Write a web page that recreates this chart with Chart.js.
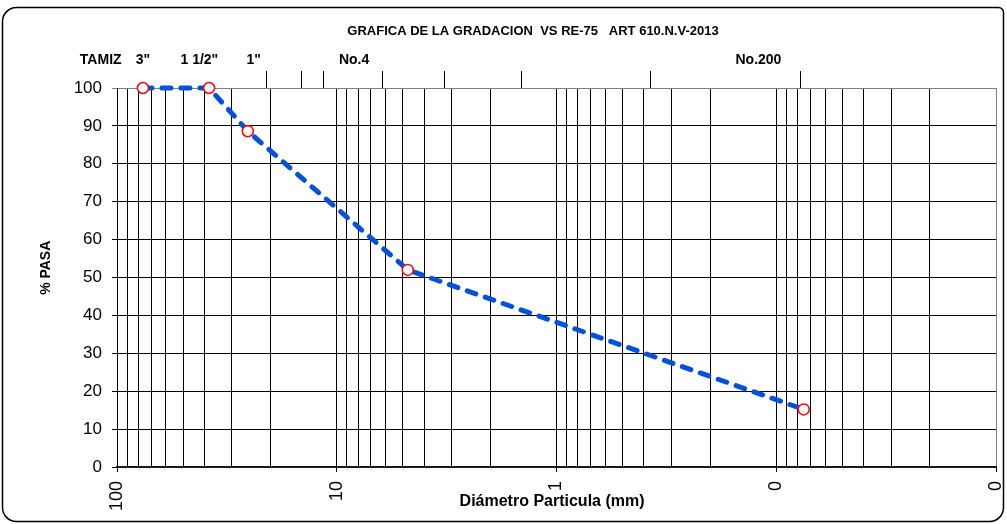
<!DOCTYPE html>
<html>
<head>
<meta charset="utf-8">
<script src="https://cdn.jsdelivr.net/npm/chart.js@4.4.1/dist/chart.umd.min.js"></script>
<style>
html,body{margin:0;padding:0;background:#fff;}
canvas{display:block;}
</style>
</head>
<body>
<canvas id="c" width="1007" height="524"></canvas>
<script>
// ---- data ----
const chartTitle = 'GRAFICA DE LA GRADACION  VS RE-75   ART 610.N.V-2013';
const xTitle = 'Diámetro Particula (mm)';
const yTitle = '% PASA';
const sieveSizes = [76.2, 38.1, 25.4, 4.75, 0.075];        // mm
const percentPassing = [100, 100, 88.6, 52, 15.2];        // % pasa
const sieveLabels = ['TAMIZ', '3"', '1 1/2"', '1"', 'No.4', 'No.200'];
const sieveLabelAt = [118.6, 76.2, 42.2, 23.9, 8.34, 0.1205];
const sieveTickAt = [0.0774, 0.374, 1.44, 3.25, 6.18, 11.43, 14.54, 20.8];
const xDecades = [0.01, 0.1, 1, 10, 100];
const xDecadeLabels = ['0', '0', '1', '10', '100'];
const yTickValues = [0, 10, 20, 30, 40, 50, 60, 70, 80, 90, 100];

const FONT = '"Liberation Sans", Arial, sans-serif';

// log grid: 1..9 x each decade
function logGridValues() {
  const out = [];
  for (let d = 0; d < xDecades.length - 1; d++) {
    for (let k = 1; k <= 9; k++) out.push(+(k * xDecades[d]).toPrecision(6));
  }
  out.push(xDecades[xDecades.length - 1]);
  return out;
}
function decadeIndex(v) {
  for (let i = 0; i < xDecades.length; i++) if (Math.abs(v - xDecades[i]) < xDecades[i] * 1e-6) return i;
  return -1;
}

const framePlugin = {
  id: 'frame',
  beforeDraw(chart) {
    const c = chart.ctx;
    c.save();
    c.fillStyle = '#fff';
    c.fillRect(0, 0, chart.width, chart.height);
    c.beginPath();
    c.roundRect(2.5, 7.5, 1001, 514, [14, 5, 14, 14]);
    c.lineWidth = 1.5;
    c.strokeStyle = '#000';
    c.stroke();
    c.restore();
  },
  afterDraw(chart) {
    const c = chart.ctx;
    c.save();
    c.font = 'bold 13px ' + FONT;
    c.fillStyle = '#000';
    c.textAlign = 'center';
    c.textBaseline = 'middle';
    c.fillText(chartTitle, 533, 31);
    c.restore();
  }
};

new Chart(document.getElementById('c'), {
  type: 'line',
  data: {
    datasets: [{
      data: sieveSizes.map((s, i) => ({x: s, y: percentPassing[i]})),
      xAxisID: 'x',
      yAxisID: 'y',
      borderColor: '#0052DC',
      borderWidth: 5,
      borderDash: [9, 10],
      borderCapStyle: 'round',
      tension: 0,
      fill: false,
      pointRadius: 5.5,
      pointHoverRadius: 5.5,
      pointStyle: 'circle',
      pointBorderColor: '#FF0000',
      pointBackgroundColor: '#FFFFFF',
      pointBorderWidth: 1.5,
      clip: false
    }]
  },
  options: {
    responsive: false,
    animation: false,
    events: [],
    layout: {padding: {left: 0, right: 11, top: 0, bottom: 0}},
    plugins: {legend: {display: false}, tooltip: {enabled: false}, title: {display: false}},
    scales: {
      x: {
        type: 'logarithmic',
        position: 'bottom',
        reverse: true,
        min: 0.01,
        max: 100,
        afterBuildTicks: s => { s.ticks = logGridValues().map(v => ({value: v})); },
        afterFit: s => { s.height = 57; },
        ticks: {
          autoSkip: false,
          maxRotation: 90,
          minRotation: 90,
          padding: 9,
          color: '#000',
          font: {family: FONT, size: 18},
          callback: v => { const i = decadeIndex(v); return i >= 0 ? xDecadeLabels[i] : ''; }
        },
        grid: {
          display: true,
          drawOnChartArea: true,
          drawTicks: true,
          tickLength: 5,
          lineWidth: 1,
          color: c => (c.tick && Math.abs(c.tick.value - 0.01) < 1e-9) ? '#808080' : '#000',
          tickColor: c => (c.tick && decadeIndex(c.tick.value) >= 0) ? '#000' : 'rgba(0,0,0,0)'
        },
        border: {display: true, color: '#1a1a1a', width: 2},
        title: {
          display: true,
          text: xTitle + '\u00a0\u00a0',
          color: '#000',
          font: {family: FONT, size: 16, weight: 'bold'},
          padding: {top: 0, bottom: 13}
        }
      },
      x2: {
        type: 'logarithmic',
        position: 'top',
        weight: 0,
        reverse: true,
        min: 0.01,
        max: 100,
        afterBuildTicks: s => { s.ticks = sieveTickAt.map(v => ({value: v})); },
        afterFit: s => { s.height = 18; },
        ticks: {display: false, autoSkip: false},
        grid: {display: true, drawOnChartArea: false, drawTicks: true, tickLength: 17, color: '#000', lineWidth: 1},
        border: {display: true, color: '#808080', width: 1}
      },
      x3: {
        type: 'logarithmic',
        position: 'top',
        weight: 1,
        reverse: true,
        min: 0.01,
        max: 100,
        afterBuildTicks: s => { s.ticks = sieveLabelAt.map(v => ({value: v})); },
        afterFit: s => { s.height = 70; },
        ticks: {
          autoSkip: false,
          maxRotation: 0,
          minRotation: 0,
          padding: 1,
          color: '#000',
          font: {family: FONT, size: 14, weight: 'bold'},
          callback: (v, i) => sieveLabels[i]
        },
        grid: {display: false, drawTicks: false, tickLength: 0},
        border: {display: false}
      },
      y: {
        type: 'linear',
        position: 'left',
        min: 0,
        max: 100,
        afterBuildTicks: s => { s.ticks = yTickValues.map(v => ({value: v})); },
        afterFit: s => { s.width = 117; },
        ticks: {
          padding: 10,
          color: '#000',
          font: {family: FONT, size: 17}
        },
        grid: {
          display: true,
          drawTicks: true,
          tickLength: 5,
          lineWidth: 1,
          color: c => (c.tick && c.tick.value === 100) ? '#808080' : '#000'
        },
        border: {display: true, color: '#000', width: 1},
        title: {
          display: true,
          text: '\u00a0\u00a0\u00a0\u00a0\u00a0' + yTitle,
          color: '#000',
          font: {family: FONT, size: 14, weight: 'bold'},
          padding: {top: 38, bottom: 0}
        }
      }
    }
  },
  plugins: [framePlugin]
});
</script>
</body>
</html>
